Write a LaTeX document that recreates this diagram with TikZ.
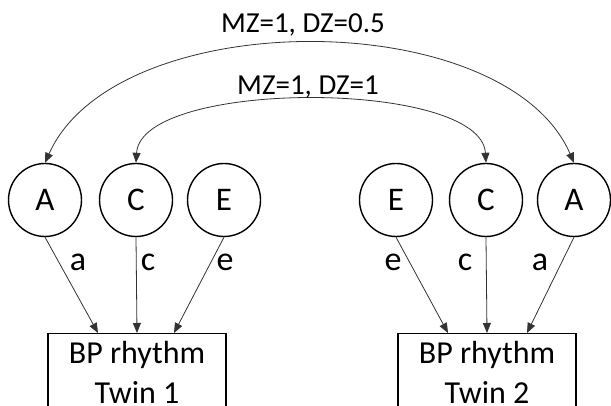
\documentclass[tikz,border=0pt]{standalone}
\usepackage{fontspec}
\setmainfont{Carlito}
\usetikzlibrary{arrows.meta}
\begin{document}
\begin{tikzpicture}[x=1pt,y=-1pt,
  latent/.style={circle,draw=black,line width=1.4pt,minimum size=73pt,inner sep=0pt,font=\fontsize{33}{39}\selectfont},
  obsbox/.style={rectangle,draw=black,line width=1.4pt,minimum width=178pt,minimum height=78pt,align=center,anchor=north,font=\fontsize{32}{40}\selectfont},
  conn/.style={draw=black!80,line width=0.8pt,-{Triangle[length=10pt,width=8pt]}},
  covconn/.style={draw=black!80,line width=0.8pt,{Triangle[length=10pt,width=8pt]}-{Triangle[length=10pt,width=8pt]}},
  path lbl/.style={anchor=base,font=\fontsize{34}{40}\selectfont},
  cov lbl/.style={anchor=base,font=\fontsize{29}{35}\selectfont}]
\useasboundingbox (0,0) rectangle (611,406);
\clip (0,0) rectangle (611,406);
% latent factors
\node[latent] (A1) at (45,200) {A};
\node[latent] (C1) at (136,200) {C};
\node[latent] (E1) at (224,200) {E};
\node[latent] (E2) at (396,200) {E};
\node[latent] (C2) at (486,200) {C};
\node[latent] (A2) at (574,200) {A};
% observed boxes
\node[obsbox] (B1) at (137,333) {BP rhythm\\Twin 1};
\node[obsbox] (B2) at (487,333) {BP rhythm\\Twin 2};
% arrow end points on boxes
\coordinate (t1a) at (98,333);
\coordinate (t1c) at (137,333);
\coordinate (t1e) at (174,333);
\coordinate (t2e) at (448,333);
\coordinate (t2c) at (487,333);
\coordinate (t2a) at (527,333);
% paths
\draw[conn] (A1.south) -- (t1a);
\draw[conn] (C1.south) -- (t1c);
\draw[conn] (E1.south) -- (t1e);
\draw[conn] (E2.south) -- (t2e);
\draw[conn] (C2.south) -- (t2c);
\draw[conn] (A2.south) -- (t2a);
% path labels
\node[path lbl] (la1) at (78,271) {a};
\node[path lbl] (lc1) at (148,271) {c};
\node[path lbl] (le1) at (225,271) {e};
\node[path lbl] (le2) at (393,271) {e};
\node[path lbl] (lc2) at (465,271) {c};
\node[path lbl] (la2) at (540,271) {a};
% covariance arcs
\draw[covconn] (A1.north) .. controls (116,4) and (505,4) .. (A2.north);
\draw[covconn] (C1.north) .. controls (141,79) and (481,79) .. (C2.north);
% arc labels
\node[cov lbl] (mzA) at (303,33) {MZ=1, DZ=0.5};
\node[cov lbl] (mzC) at (308,95) {MZ=1, DZ=1};
\end{tikzpicture}
\end{document}
